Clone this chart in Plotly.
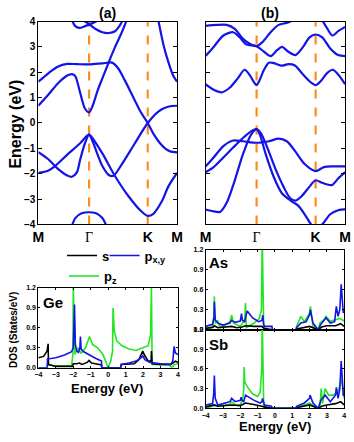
import plotly.graph_objects as go

FONT = "Liberation Sans"
W, H = 354, 442

# ---------------- k-path ----------------
k_labels = ["M", "Γ", "K", "M"]
k_pos = [0.0, 0.577, 1.244, 1.577]
e_range = [-4, 4]

# ---------------- Panel (a): Ge bands ----------------
a1_k = [0, 0.110, 0.219, 0.329, 0.438, 0.577, 0.728, 0.837, 0.909, 0.981, 1.089, 1.161, 1.244, 1.308, 1.384, 1.441, 1.498, 1.577]
a1_e = [1.63, 1.95, 2.22, 2.33, 2.32, 2.31, 2.35, 2.38, 2.15, 1.7, 0.95, 0.45, 0.0, -0.42, -0.8, -1.0, -1.12, -1.16]
a2_k = [0, 0.110, 0.219, 0.329, 0.383, 0.420, 0.475, 0.530, 0.577, 0.620, 0.674, 0.728, 0.801, 0.873, 0.952, 1.010]
a2_e = [0.68, 1.1, 1.55, 1.87, 1.93, 1.85, 1.2, 0.57, 0.42, 0.7, 1.28, 1.76, 2.4, 3.0, 3.6, 4.1]
a3_k = [0, 0.110, 0.219, 0.329, 0.383, 0.438, 0.475, 0.530, 0.577, 0.620, 0.674, 0.728, 0.801, 0.855, 0.945, 1.089, 1.244, 1.365, 1.441, 1.516, 1.577]
a3_e = [-1.15, -1.42, -1.8, -2.07, -2.12, -1.95, -1.45, -0.8, -0.46, -0.75, -1.25, -1.7, -2.05, -2.08, -1.65, -0.85, 0.0, 0.45, 0.6, 0.67, 0.68]
a4_k = [0, 0.110, 0.183, 0.329, 0.475, 0.540, 0.577, 0.620, 0.728, 0.873, 1.017, 1.161, 1.244, 1.308, 1.403, 1.479, 1.577]
a4_e = [-1.97, -1.88, -1.72, -1.25, -0.8, -0.55, -0.46, -0.62, -1.2, -2.1, -2.85, -3.45, -3.66, -3.58, -3.1, -2.5, -1.97]
a5_k = [1.365, 1.422, 1.479, 1.536, 1.577]
a5_e = [4.05, 3.1, 2.4, 1.85, 1.63]
a6_k = [0.383, 0.420, 0.467, 0.530, 0.577, 0.638, 0.674]
a6_e = [4.05, 3.82, 3.75, 3.82, 3.88, 3.97, 4.05]
a7_k = [0.511, 0.577, 0.656, 0.728, 0.801, 0.873, 0.927, 0.959]
a7_e = [4.05, 3.9, 3.7, 3.58, 3.55, 3.62, 3.85, 4.05]
a8_k = [0.383, 0.420, 0.493, 0.577, 0.656, 0.728, 0.772]
a8_e = [-4.05, -3.75, -3.56, -3.52, -3.56, -3.75, -4.05]
bands_a = [(a1_k, a1_e), (a2_k, a2_e), (a3_k, a3_e), (a4_k, a4_e),
           (a5_k, a5_e), (a6_k, a6_e), (a7_k, a7_e), (a8_k, a8_e)]

# ---------------- Panel (b) bands ----------------
b1_k = [0, 0.129, 0.239, 0.331, 0.423, 0.515, 0.577, 0.643, 0.735, 0.827, 0.918, 0.991]
b1_e = [3.83, 3.87, 3.87, 3.71, 3.32, 3.1, 3.03, 3.19, 3.58, 3.87, 3.95, 4.05]
b2_k = [0, 0.092, 0.202, 0.312, 0.386, 0.459, 0.577, 0.661, 0.735, 0.808, 0.863, 0.936, 1.017, 1.102, 1.175, 1.244, 1.319, 1.409, 1.499, 1.577]
b2_e = [2.64, 3.0, 3.45, 3.58, 3.38, 3.1, 3.03, 2.81, 2.64, 2.87, 3.0, 2.81, 2.68, 3.0, 3.38, 3.49, 3.38, 2.94, 2.68, 2.64]
b3_k = [1.319, 1.373, 1.434, 1.499, 1.577]
b3_e = [4.05, 3.74, 3.45, 3.62, 3.79]
b4_k = [0, 0.092, 0.184, 0.276, 0.368, 0.441, 0.496, 0.551, 0.577, 0.606, 0.661, 0.716, 0.771, 0.863, 0.936, 1.010, 1.102, 1.193, 1.244, 1.301, 1.373, 1.438, 1.499, 1.577]
b4_e = [1.53, 1.31, 1.21, 1.4, 1.78, 2.1, 1.91, 1.59, 1.49, 1.65, 2.1, 2.38, 2.36, 2.26, 2.32, 2.27, 1.91, 1.59, 1.49, 1.65, 1.97, 2.1, 1.91, 1.53]
b5_k = [0, 0.092, 0.202, 0.312, 0.423, 0.577, 0.716, 0.827, 0.918, 1.010, 1.120, 1.244, 1.337, 1.445, 1.577]
b5_e = [-1.72, -1.36, -0.91, -0.69, -0.72, -0.78, -0.72, -0.62, -0.72, -1.1, -1.62, -1.9, -1.74, -1.71, -1.71]
b6_k = [0, 0.092, 0.202, 0.312, 0.423, 0.515, 0.577, 0.625, 0.698, 0.790, 0.881, 0.955, 1.017, 1.083, 1.175, 1.244, 1.319, 1.427, 1.499, 1.577]
b6_e = [-1.94, -1.74, -1.36, -0.97, -0.59, -0.33, -0.24, -0.4, -0.97, -1.81, -2.51, -2.96, -3.06, -2.9, -2.51, -2.26, -2.36, -2.45, -2.19, -1.94]
b7_k = [0, 0.0735, 0.165, 0.239, 0.331, 0.423, 0.515, 0.577, 0.614, 0.680, 0.771, 0.863, 0.973, 1.047, 1.120, 1.193, 1.244, 1.319, 1.409, 1.499, 1.577]
b7_e = [-3.41, -3.47, -3.51, -3.15, -2.26, -1.23, -0.46, -0.24, -0.46, -1.23, -2.13, -2.77, -3.09, -3.26, -3.6, -4.0, -4.2, -4.0, -3.6, -3.44, -3.41]
bands_b = [(b1_k, b1_e), (b2_k, b2_e), (b3_k, b3_e), (b4_k, b4_e),
           (b5_k, b5_e), (b6_k, b6_e), (b7_k, b7_e)]

# ---------------- DOS ----------------
ge_s_E = [-4.0, -3.7, -3.5, -3.44, -3.42, -3.0, -2.05, -2.0, -1.8, -1.65, -1.5, -1.2, -1.1, -0.95, -0.5, -0.38, -0.37, 0.72, 0.75, 1.5, 1.75, 1.9, 1.98, 2.1, 2.3, 2.46, 2.48, 2.52, 3.0, 3.6, 3.75, 3.85, 4.0]
ge_s = [0.15, 0.17, 0.25, 0.36, 0.05, 0.02, 0.02, 0.06, 0.06, 0.07, 0.05, 0.08, 0.11, 0.07, 0.05, 0.04, 0.0, 0.0, 0.05, 0.06, 0.12, 0.2, 0.25, 0.18, 0.1, 0.1, 0.25, 0.06, 0.05, 0.05, 0.08, 0.1, 0.08]
ge_pxy_E = [-4.0, -3.49, -3.48, -3.0, -2.5, -2.1, -2.0, -1.97, -1.95, -1.93, -1.88, -1.8, -1.7, -1.62, -1.59, -1.55, -1.4, -1.2, -1.0, -0.7, -0.38, -0.37, 0.72, 0.75, 1.2, 1.6, 1.9, 1.98, 2.1, 2.4, 3.0, 3.6, 3.7, 3.78, 3.85, 4.0]
ge_pxy = [0.0, 0.0, 0.13, 0.15, 0.19, 0.24, 0.3, 0.65, 0.5, 0.95, 0.35, 0.25, 0.23, 0.3, 0.47, 0.28, 0.24, 0.21, 0.19, 0.14, 0.1, 0.0, 0.0, 0.05, 0.07, 0.1, 0.15, 0.18, 0.12, 0.08, 0.06, 0.05, 0.1, 0.32, 0.22, 0.2]
ge_pz_E = [-4.0, -3.5, -3.48, -3.0, -2.1, -2.02, -2.0, -1.95, -1.9, -1.75, -1.55, -1.3, -1.07, -0.9, -0.6, -0.3, -0.15, 0.0, 0.15, 0.25, 0.28, 0.35, 0.5, 0.8, 1.2, 1.6, 1.8, 2.0, 2.3, 2.43, 2.48, 2.52, 3.0, 3.5, 3.65, 3.8, 4.0]
ge_pz = [0.0, 0.0, 0.04, 0.03, 0.03, 0.2, 1.2, 0.4, 0.2, 0.3, 0.22, 0.3, 0.47, 0.35, 0.3, 0.2, 0.1, 0.0, 0.1, 0.25, 0.9, 0.55, 0.4, 0.33, 0.28, 0.26, 0.28, 0.3, 0.33, 0.5, 1.2, 0.05, 0.05, 0.04, 0.0, 0.05, 0.06]

as_s_E = [-4.0, -3.55, -3.5, -3.3, -2.5, -2.2, -1.9, -1.7, -1.2, -0.75, -0.62, -0.2, -0.15, 1.2, 1.25, 2.0, 2.3, 2.5, 2.7, 3.0, 3.5, 3.8, 4.0]
as_s = [0.02, 0.04, 0.06, 0.03, 0.05, 0.03, 0.04, 0.06, 0.05, 0.05, 0.02, 0.01, 0.0, 0.0, 0.01, 0.05, 0.02, 0.0, 0.04, 0.06, 0.06, 0.09, 0.05]
as_pxy_E = [-4.0, -3.6, -3.52, -3.5, -3.45, -3.3, -3.0, -2.6, -2.5, -2.3, -2.0, -1.93, -1.88, -1.75, -1.68, -1.6, -1.3, -0.95, -0.75, -0.7, -0.65, -0.6, -0.17, -0.15, 1.22, 1.25, 1.5, 1.8, 2.0, 2.05, 2.2, 2.5, 2.65, 2.95, 3.2, 3.45, 3.55, 3.65, 3.75, 3.83, 3.95, 4.0]
as_pxy = [0.05, 0.08, 0.2, 0.42, 0.15, 0.1, 0.07, 0.1, 0.14, 0.11, 0.13, 0.24, 0.14, 0.12, 0.2, 0.28, 0.18, 0.12, 0.14, 0.22, 0.08, 0.05, 0.05, 0.0, 0.0, 0.03, 0.1, 0.12, 0.22, 0.3, 0.1, 0.0, 0.08, 0.18, 0.1, 0.12, 0.35, 0.2, 0.3, 0.68, 0.25, 0.3]
as_pz_E = [-4.0, -3.6, -3.52, -3.5, -3.45, -3.3, -3.2, -3.0, -2.6, -2.5, -2.4, -2.0, -1.75, -1.7, -1.65, -1.5, -1.2, -0.9, -0.78, -0.74, -0.72, -0.65, -0.62, 1.22, 1.25, 1.5, 1.6, 1.7, 2.0, 2.05, 2.2, 2.5, 2.6, 2.85, 2.95, 3.2, 3.5, 3.75, 4.0]
as_pz = [0.0, 0.03, 0.2, 0.5, 0.1, 0.13, 0.05, 0.05, 0.12, 0.22, 0.1, 0.05, 0.15, 0.4, 0.03, 0.05, 0.1, 0.17, 0.3, 1.2, 1.2, 0.05, 0.0, 0.0, 0.05, 0.2, 0.15, 0.12, 0.25, 0.35, 0.05, 0.0, 0.1, 0.15, 0.2, 0.13, 0.15, 0.17, 0.13]

sb_s_E = [-4.0, -3.5, -3.3, -2.5, -2.0, -1.7, -1.3, -1.0, -0.75, -0.62, -0.2, -0.15, 1.22, 1.3, 2.0, 2.3, 2.5, 2.7, 3.0, 3.5, 3.8, 4.0]
sb_s = [0.02, 0.05, 0.03, 0.05, 0.04, 0.08, 0.06, 0.05, 0.03, 0.02, 0.01, 0.0, 0.0, 0.01, 0.05, 0.02, 0.0, 0.03, 0.05, 0.07, 0.1, 0.05]
sb_pxy_E = [-4.0, -3.6, -3.53, -3.5, -3.45, -3.3, -3.0, -2.6, -2.5, -2.3, -2.0, -1.95, -1.9, -1.8, -1.7, -1.4, -1.2, -0.85, -0.75, -0.72, -0.65, -0.6, -0.2, -0.15, 1.22, 1.25, 1.7, 2.0, 2.03, 2.2, 2.5, 2.65, 2.9, 3.2, 3.5, 3.55, 3.65, 3.75, 3.83, 3.95, 4.0]
sb_pxy = [0.05, 0.07, 0.25, 0.5, 0.15, 0.05, 0.07, 0.1, 0.15, 0.1, 0.12, 0.17, 0.12, 0.1, 0.2, 0.15, 0.12, 0.08, 0.1, 0.15, 0.06, 0.05, 0.03, 0.0, 0.0, 0.03, 0.08, 0.15, 0.2, 0.08, 0.0, 0.12, 0.2, 0.1, 0.2, 0.32, 0.15, 0.3, 0.72, 0.2, 0.2]
sb_pz_E = [-4.0, -3.5, -3.0, -2.6, -2.5, -2.3, -2.0, -1.85, -1.8, -1.78, -1.74, -1.6, -1.3, -1.0, -0.85, -0.76, -0.74, -0.72, -0.65, -0.62, 1.22, 1.3, 1.7, 2.0, 2.3, 2.5, 2.62, 2.67, 2.75, 2.85, 2.9, 3.1, 3.4, 3.6, 3.7, 3.85, 4.0]
sb_pz = [0.0, 0.04, 0.04, 0.06, 0.1, 0.05, 0.05, 0.15, 0.3, 0.63, 0.4, 0.33, 0.22, 0.18, 0.25, 0.6, 1.2, 1.2, 0.05, 0.0, 0.0, 0.02, 0.05, 0.08, 0.02, 0.0, 0.05, 0.3, 0.07, 0.2, 0.3, 0.2, 0.2, 0.25, 0.3, 0.45, 0.15]

dos_ticks = [-4, -3, -2, -1, 0, 1, 2, 3, 4]
dos_yticks = [0.0, 0.3, 0.6, 0.9, 1.2]
orb_names = ["s", "p<sub>x,y</sub>", "p<sub>z</sub>"]

BLUE = "#1414E6"
GREEN = "#22E622"
BLACK = "#000000"
ORANGE = "#FF8C1A"

fig = go.Figure()

def px2x(p):
    return p / W

def px2y(p):
    return 1 - p / H

# band panels
for (bands, xa, ya) in [(bands_a, "x", "y"), (bands_b, "x2", "y2")]:
    for kk in (k_pos[1], k_pos[2]):
        fig.add_trace(go.Scatter(x=[kk, kk], y=e_range, mode="lines",
                                 line=dict(color=ORANGE, width=2.2, dash="dash"),
                                 xaxis=xa, yaxis=ya, showlegend=False, hoverinfo="skip"))
    for kx, ey in bands:
        fig.add_trace(go.Scatter(x=kx, y=ey, mode="lines",
                                 line=dict(color=BLUE, width=2.2, shape="spline", smoothing=0.8),
                                 xaxis=xa, yaxis=ya, showlegend=False, hoverinfo="skip"))

# DOS panels
dos_sets = [
    ("x3", "y3", ge_s_E, ge_s, ge_pxy_E, ge_pxy, ge_pz_E, ge_pz, True),
    ("x4", "y4", as_s_E, as_s, as_pxy_E, as_pxy, as_pz_E, as_pz, False),
    ("x5", "y5", sb_s_E, sb_s, sb_pxy_E, sb_pxy, sb_pz_E, sb_pz, False),
]
for xa, ya, sE, s, pE, p, zE, z, leg in dos_sets:
    fig.add_trace(go.Scatter(x=zE, y=z, mode="lines", name="<b>" + orb_names[2] + "</b>",
                             line=dict(color=GREEN, width=1.6), xaxis=xa, yaxis=ya,
                             showlegend=leg, legend="legend2"))
    fig.add_trace(go.Scatter(x=sE, y=s, mode="lines", name="<b>" + orb_names[0] + "</b>",
                             line=dict(color=BLACK, width=1.6), xaxis=xa, yaxis=ya,
                             showlegend=leg, legend="legend"))
    fig.add_trace(go.Scatter(x=pE, y=p, mode="lines", name="<b>" + orb_names[1] + "</b>",
                             line=dict(color=BLUE, width=1.6), xaxis=xa, yaxis=ya,
                             showlegend=leg, legend="legend3"))

tickfont_b = dict(family=FONT, size=10, color="black", weight="bold")
tickfont_s = dict(family=FONT, size=7, color="black", weight="bold")
kfont = dict(family=FONT, size=14, color="black", weight="bold")

k_text = [('<span style="font-family:Liberation Serif;font-weight:normal">%s</span>' % t) if t == "Γ" else t
          for t in k_labels]

def base_axis(domain, rng):
    return dict(domain=domain, range=rng, showline=True, linecolor="black", linewidth=1,
                showgrid=False, zeroline=False, tickcolor="black", fixedrange=True)

layout = dict(width=W, height=H, margin=dict(l=0, r=0, t=0, b=0),
              paper_bgcolor="white", plot_bgcolor="white", showlegend=True)

ydom_band = [px2y(225), px2y(17)]
layout["xaxis"] = dict(base_axis([px2x(33.5), px2x(177)], [0, 1.577]), anchor="y",
                       tickvals=k_pos, ticktext=k_text, ticks="", mirror=True, tickfont=kfont)
layout["yaxis"] = dict(base_axis(ydom_band, e_range), anchor="x", dtick=1, ticks="inside",
                       ticklen=4, mirror="ticks", tickfont=tickfont_b)
layout["xaxis2"] = dict(base_axis([px2x(206.5), px2x(351)], [0, 1.577]), anchor="y2",
                        tickvals=k_pos, ticktext=k_text, ticks="", mirror=True, tickfont=kfont)
layout["yaxis2"] = dict(base_axis(ydom_band, e_range), anchor="x2", dtick=1, ticks="inside",
                        ticklen=4, mirror="ticks", showticklabels=False)

def dos_x(domain, anchor, labels):
    return dict(base_axis(domain, [-4, 4]), anchor=anchor, tickvals=dos_ticks, ticks="inside",
                ticklen=2, mirror="ticks", tickfont=tickfont_s, showticklabels=labels)

def dos_y(domain, anchor):
    return dict(base_axis(domain, [0, 1.2]), anchor=anchor, tickvals=dos_yticks,
                tickformat=".1f", ticks="inside", ticklen=2, mirror="ticks", tickfont=tickfont_s)

layout["xaxis3"] = dos_x([px2x(33.5), px2x(178)], "y3", True)
layout["yaxis3"] = dos_y([px2y(372), px2y(290)], "x3")
layout["xaxis4"] = dos_x([px2x(206.7), px2x(350)], "y4", False)
layout["yaxis4"] = dos_y([px2y(333), px2y(251)], "x4")
layout["xaxis5"] = dos_x([px2x(206.7), px2x(350)], "y5", True)
layout["yaxis5"] = dos_y([px2y(413.5), px2y(333)], "x5")

legfont = dict(family=FONT, size=13, color="black")

def legend_at(x, y):
    return dict(x=px2x(x), y=px2y(y), xanchor="left", yanchor="middle",
                orientation="h", bgcolor="rgba(0,0,0,0)", font=legfont, itemwidth=30)

layout["legend"] = legend_at(58, 257)
layout["legend3"] = legend_at(102, 257)
layout["legend2"] = legend_at(60, 278)

def ann(text, x, y, size, angle=0, xanchor="center"):
    return dict(text=text, x=px2x(x), y=px2y(y), xref="paper", yref="paper", showarrow=False,
                font=dict(family=FONT, size=size, color="black", weight="bold"),
                textangle=angle, xanchor=xanchor, yanchor="middle")

layout["annotations"] = [
    ann("(a)", 105, 8, 14),
    ann("(b)", 273, 8, 14),
    ann("Energy (eV)", 10, 122, 16, angle=-90),
    ann("DOS (States/eV)", 8.5, 333, 10, angle=-90),
    ann("Energy (eV)", 105, 393, 13),
    ann("Energy (eV)", 278, 432, 13),
    ann("Ge", 36, 305, 15, xanchor="left"),
    ann("As", 208, 264, 15, xanchor="left"),
    ann("Sb", 208, 348, 15, xanchor="left"),
]

fig.update_layout(**layout)
fig.write_html("out.html")
